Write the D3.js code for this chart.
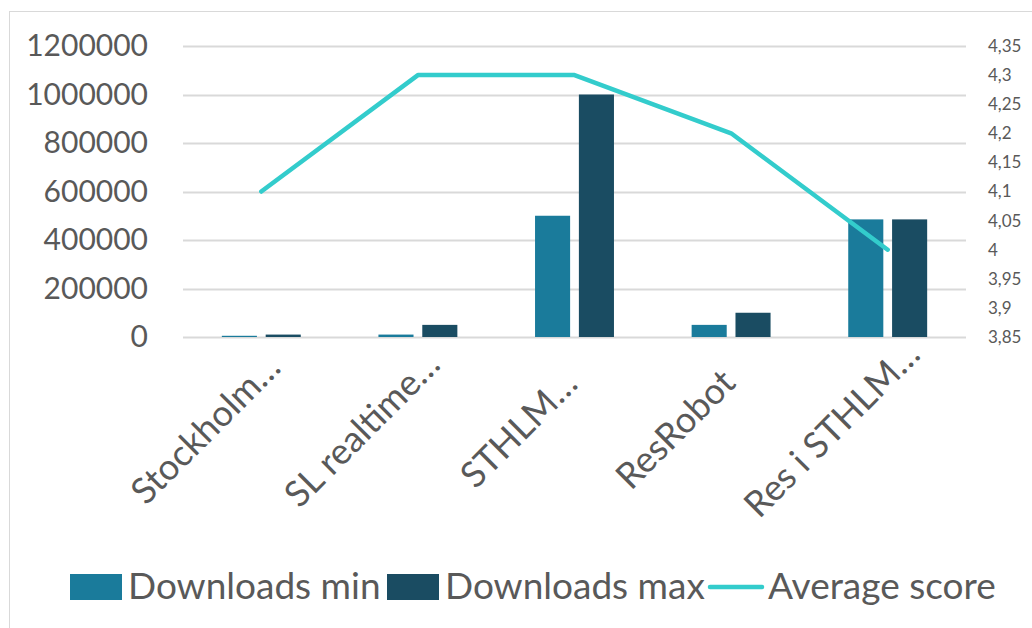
<!DOCTYPE html>
<html>
<head>
<meta charset="utf-8">
<script src="https://cdn.jsdelivr.net/npm/d3@7"></script>
<style>
  body { margin: 0; background: #fff; }
  text { font-family: Lato, "Open Sans", sans-serif; fill: #595959; }
</style>
</head>
<body>
<script>
// donnees
const apps = ["Stockholm…", "SL realtime…", "STHLM…", "ResRobot", "Res i STHLM…"];
const downloadsMin = [5000, 10000, 500000, 50000, 485000];
const downloadsMax = [10000, 50000, 1000000, 100000, 485000];
const averageScore = [4.1, 4.3, 4.3, 4.2, 4.0];
const leftTicks = [0, 200000, 400000, 600000, 800000, 1000000, 1200000];
const rightTicks = [3.85, 3.9, 3.95, 4, 4.05, 4.1, 4.15, 4.2, 4.25, 4.3, 4.35];

const largeur = 1032, hauteur = 628;
const gauche = 183, droite = 966, haut = 46, bas = 337;

const svg = d3.select("body").append("svg")
  .attr("width", largeur)
  .attr("height", hauteur);

// cadre
svg.append("rect")
  .attr("x", 9.5).attr("y", 11.5)
  .attr("width", 1040).attr("height", 640)
  .attr("fill", "none")
  .attr("stroke", "#d9d9d9");

const x0 = d3.scaleBand().domain(apps).range([gauche, droite]);
const bw = x0.bandwidth();
const x1 = d3.scaleBand().domain(["min", "max"])
  .range([bw / 2 - bw * 0.252, bw / 2 + bw * 0.252])
  .paddingInner(0.2);
const y = d3.scaleLinear().domain([0, 1200000]).range([bas, haut]);
const y2 = d3.scaleLinear().domain([3.85, 4.35]).range([bas, haut]);

const virgule = d3.formatLocale({ decimal: ",", thousands: "", grouping: [3], currency: ["", ""] });

// grille
svg.append("g").selectAll("line")
  .data(leftTicks)
  .join("line")
  .attr("x1", gauche).attr("x2", droite)
  .attr("y1", d => Math.round(y(d)) + 0.5)
  .attr("y2", d => Math.round(y(d)) + 0.5)
  .attr("stroke", "#d9d9d9")
  .attr("stroke-width", 2);

// axe gauche
const axeG = svg.append("g")
  .attr("transform", `translate(${gauche},0)`)
  .call(d3.axisLeft(y).tickValues(leftTicks).tickSize(0).tickPadding(35).tickFormat(d3.format("d")));
axeG.select(".domain").remove();
axeG.selectAll("text")
  .style("font-size", "30px")
  .attr("fill", "#595959");

// axe droit
const axeD = svg.append("g")
  .attr("transform", `translate(${droite},0)`)
  .call(d3.axisRight(y2).tickValues(rightTicks).tickSize(0).tickPadding(22).tickFormat(virgule.format("~g")));
axeD.select(".domain").remove();
axeD.selectAll("text")
  .style("font-size", "17px")
  .attr("fill", "#595959");

// barres
const groupes = svg.append("g").selectAll("g")
  .data(apps)
  .join("g")
  .attr("transform", d => `translate(${x0(d)},0)`);

groupes.append("rect")
  .attr("x", x1("min"))
  .attr("width", x1.bandwidth())
  .attr("y", (d, i) => y(downloadsMin[i]))
  .attr("height", (d, i) => bas - y(downloadsMin[i]))
  .attr("fill", "#1a7b9b");

groupes.append("rect")
  .attr("x", x1("max"))
  .attr("width", x1.bandwidth())
  .attr("y", (d, i) => y(downloadsMax[i]))
  .attr("height", (d, i) => bas - y(downloadsMax[i]))
  .attr("fill", "#1a4c62");

// ligne
const ligne = d3.line()
  .x((d, i) => x0(apps[i]) + bw / 2)
  .y(d => y2(d));

svg.append("path")
  .datum(averageScore)
  .attr("d", ligne)
  .attr("fill", "none")
  .attr("stroke", "#33cccc")
  .attr("stroke-width", 4.5)
  .attr("stroke-linejoin", "round")
  .attr("stroke-linecap", "round");

// etiquettes x (centrees sur la diagonale)
svg.append("g").selectAll("text")
  .data(apps)
  .join("text")
  .attr("transform", d => `translate(${x0(d) + bw / 2 - 47},438) rotate(-45)`)
  .attr("text-anchor", "middle")
  .style("font-size", "36px")
  .text(d => d);

// legende
const legende = svg.append("g");
legende.append("rect").attr("x", 70).attr("y", 574).attr("width", 52).attr("height", 26).attr("fill", "#1a7b9b");
legende.append("text").attr("x", 128).attr("y", 599).style("font-size", "37px").text("Downloads min");
legende.append("rect").attr("x", 387).attr("y", 574).attr("width", 52).attr("height", 26).attr("fill", "#1a4c62");
legende.append("text").attr("x", 445).attr("y", 599).style("font-size", "37px").text("Downloads max");
legende.append("line").attr("x1", 710).attr("x2", 762).attr("y1", 587).attr("y2", 587)
  .attr("stroke", "#33cccc").attr("stroke-width", 4.5).attr("stroke-linecap", "round");
legende.append("text").attr("x", 768).attr("y", 599).style("font-size", "37px").text("Average score");
</script>
</body>
</html>
